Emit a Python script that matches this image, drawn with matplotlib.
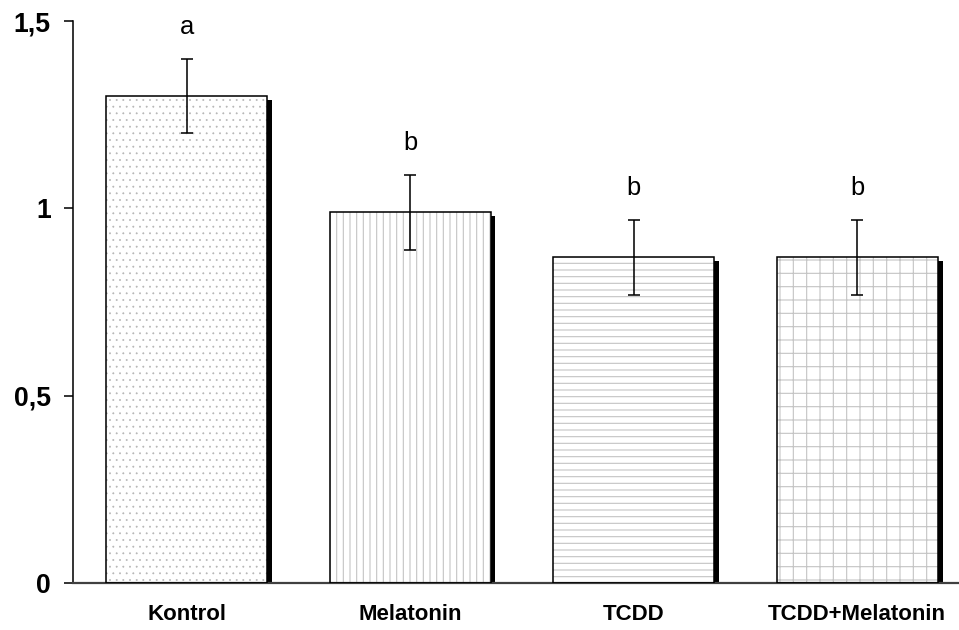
import numpy as np
import matplotlib
matplotlib.use("Agg")
import matplotlib.pyplot as plt

# data
groups = ["Kontrol", "Melatonin", "TCDD", "TCDD+Melatonin"]
means = [1.30, 0.99, 0.87, 0.87]
errors = [0.10, 0.10, 0.10, 0.10]
letters = ["a", "b", "b", "b"]
hatches = ["..", "||", "--", "+"]
hatch_colors = ["#b4b4b4", "#c4c4c4", "#c4c4c4", "#c4c4c4"]
hatch_widths = [0.5, 1.0, 1.0, 1.0]

ytick_vals = [0, 0.5, 1, 1.5]
ytick_text = ["0", "0,5", "1", "1,5"]

dpi = 80
fig = plt.figure(figsize=(959 / dpi, 630 / dpi), dpi=dpi)
ax = fig.add_axes([0.0761, 0.0746, 0.924, 0.892])

x = np.arange(len(groups))
w = 0.72

# drop shadow on the right edge
ax.bar(x + 0.022, np.array(means) - 0.011, w, color="black", zorder=1)
# hatched fill (hatch colour comes from edgecolor)
for xi, m, h, hc, hw in zip(x, means, hatches, hatch_colors, hatch_widths):
    plt.rcParams["hatch.linewidth"] = hw
    ax.bar(xi, m, w, color="white", edgecolor=hc, hatch=h, linewidth=0, zorder=2)
# outlines
ax.bar(x, means, w, fill=False, edgecolor="black", linewidth=1.4, zorder=3)

ax.errorbar(x, means, yerr=errors, fmt="none", ecolor="black", elinewidth=1.4,
            capsize=5, capthick=1.4, zorder=4)

for xi, m, e, l in zip(x, means, errors, letters):
    ax.text(xi, m + e + 0.066, l, ha="center", va="baseline", fontsize=23,
            family="Liberation Sans")

ax.set_xlim(-0.508, 3.456)
ax.set_ylim(0, 1.5)
ax.set_yticks(ytick_vals)
ax.set_yticklabels(ytick_text, fontsize=24, fontweight="bold", family="Liberation Sans")
ax.set_xticks(x)
ax.set_xticklabels(groups, fontsize=20, fontweight="bold", family="Liberation Sans")
ax.tick_params(axis="x", length=0, pad=19)
ax.tick_params(axis="y", length=8, width=1.4, direction="out", pad=12)

for s in ["top", "right"]:
    ax.spines[s].set_visible(False)
ax.spines["left"].set_linewidth(1.4)
ax.spines["bottom"].set_linewidth(2)
ax.spines["bottom"].set_color("#404040")

fig.savefig("out.png", dpi=dpi)
